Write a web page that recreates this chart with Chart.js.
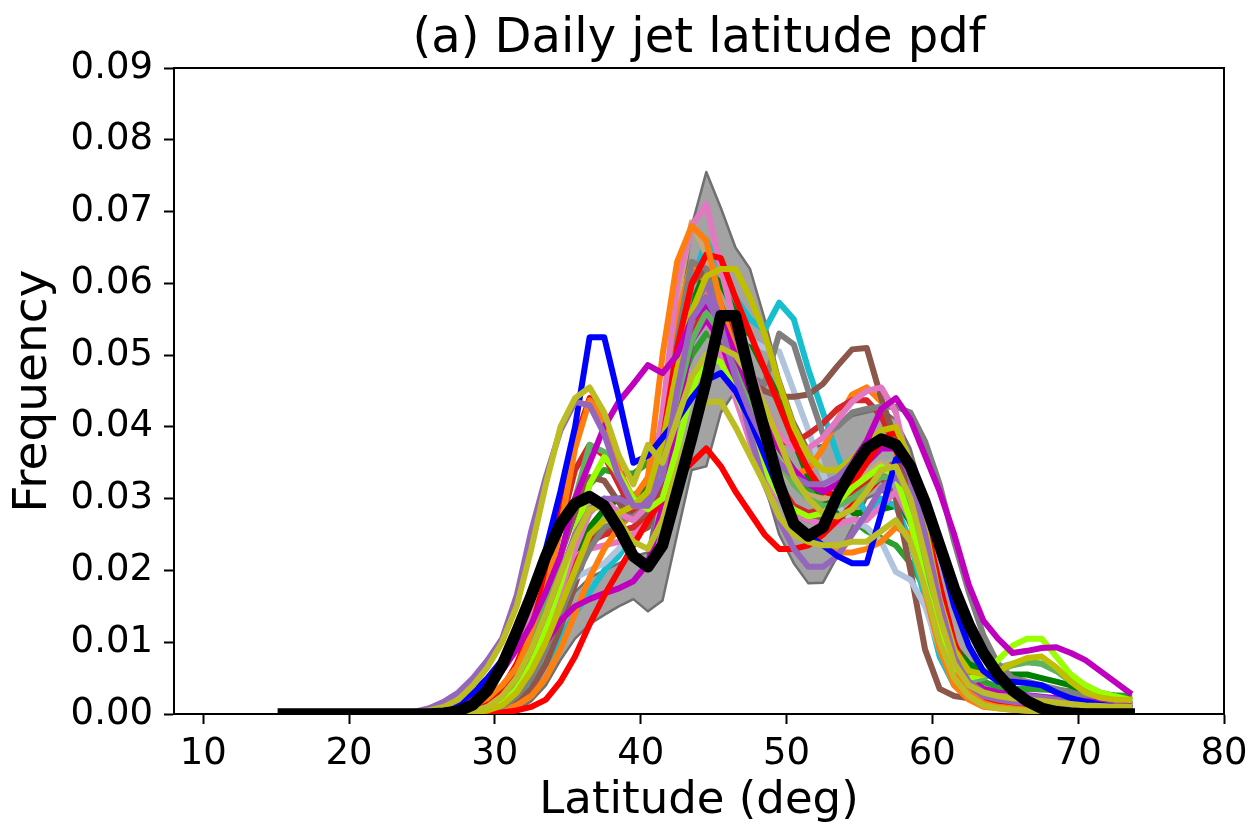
<!DOCTYPE html>
<html><head><meta charset="utf-8">
<script src="https://cdn.jsdelivr.net/npm/chart.js@4.4.0/dist/chart.umd.min.js"></script>
<style>html,body{margin:0;padding:0;background:#fff;}#c{display:block;}</style>
</head><body>
<canvas id="c" width="1251" height="825"></canvas>
<script>
// ---------- data ----------
const latitudes = [15.5,16.5,17.5,18.5,19.5,20.5,21.5,22.5,23.5,24.5,
  25.5,26.5,27.5,28.5,29.5,30.5,31.5,32.5,33.5,34.5,
  35.5,36.5,37.5,38.5,39.5,40.5,41.5,42.5,43.5,44.5,
  45.5,46.5,47.5,48.5,49.5,50.5,51.5,52.5,53.5,54.5,
  55.5,56.5,57.5,58.5,59.5,60.5,61.5,62.5,63.5,64.5,
  65.5,66.5,67.5,68.5,69.5,70.5,71.5,72.5,73.5];

const xTickValues = [10,20,30,40,50,60,70,80];
const xTickLabels = ['10','20','30','40','50','60','70','80'];
const yTickValues = [0,0.01,0.02,0.03,0.04,0.05,0.06,0.07,0.08,0.09];
const yTickLabels = ['0.00','0.01','0.02','0.03','0.04','0.05','0.06','0.07','0.08','0.09'];
const chartTitle = '(a) Daily jet latitude pdf';
const xTitle = 'Latitude (deg)';
const yTitle = 'Frequency';

const obsPdf = [0,0,0,0,0,0,0,0,0,0,
  0,0.0001,0.0004,0.0013,0.0033,0.0068,0.0115,0.0165,0.022,0.0265,
  0.0293,0.0303,0.029,0.0258,0.022,0.0205,0.0235,0.031,0.0385,0.0465,
  0.0555,0.0555,0.047,0.0395,0.032,0.0265,0.0248,0.026,0.0305,0.034,
  0.037,0.0383,0.0375,0.0345,0.0295,0.0235,0.0175,0.0125,0.0085,0.0055,
  0.0033,0.0018,0.0008,0.0003,0.0001,0,0,0,0];
const obsRangeLow = [0,0,0,0,0,0,0,0,0,0,
  0,0,0,0,0,0.0001,0.0005,0.0018,0.004,0.0075,
  0.0105,0.0125,0.0138,0.015,0.016,0.0143,0.0158,0.025,0.034,0.0345,
  0.042,0.045,0.040,0.032,0.025,0.021,0.0182,0.0183,0.022,0.026,
  0.030,0.031,0.030,0.026,0.020,0.013,0.008,0.004,0.002,0.001,
  0.0004,0.0002,0.0001,0,0,0,0,0,0];
const obsRangeHigh = [0,0,0,0,0,0,0,0,0,0,
  0,0,0,0,0,0.0005,0.002,0.005,0.009,0.013,
  0.017,0.019,0.020,0.021,0.022,0.0225,0.034,0.052,0.068,0.0755,
  0.0705,0.065,0.062,0.055,0.047,0.041,0.037,0.0375,0.040,0.0415,
  0.042,0.0425,0.041,0.037,0.030,0.022,0.015,0.009,0.005,0.003,
  0.0015,0.0008,0.0003,0.0001,0,0,0,0,0];

const mBlue = [0,0,0,0,0,0,0,0,0,0.0001,
  0.0003,0.0007,0.0015,0.003,0.005,0.0075,0.011,0.016,0.023,0.031,
  0.040,0.0525,0.0525,0.044,0.035,0.036,0.0385,0.041,0.044,0.0465,
  0.0475,0.045,0.041,0.036,0.031,0.027,0.025,0.0235,0.022,0.021,
  0.021,0.028,0.0355,0.035,0.030,0.0225,0.015,0.0095,0.006,0.0045,
  0.0045,0.0043,0.004,0.003,0.0022,0.0017,0.0013,0.001,0.0008];
const mMagentaA = [0,0,0,0,0,0,0,0,0,0.0001,
  0.0003,0.0007,0.0015,0.0025,0.004,0.006,0.009,0.0125,0.017,0.022,
  0.030,0.035,0.040,0.0435,0.046,0.0486,0.0475,0.050,0.055,0.057,
  0.055,0.050,0.045,0.041,0.037,0.034,0.032,0.031,0.032,0.035,
  0.038,0.0425,0.044,0.041,0.036,0.031,0.025,0.018,0.013,0.0105,
  0.0085,0.0088,0.0092,0.0093,0.0085,0.0075,0.006,0.0045,0.003];
const mCyan = [0,0,0,0,0,0,0,0,0,0,
  0,0,0,0.0001,0.0003,0.0008,0.002,0.004,0.007,0.0105,
  0.014,0.017,0.020,0.022,0.025,0.0275,0.033,0.048,0.060,0.066,
  0.062,0.058,0.055,0.0535,0.0573,0.055,0.048,0.042,0.036,0.031,
  0.028,0.030,0.029,0.024,0.016,0.008,0.004,0.0025,0.0015,0.001,
  0.0008,0.0006,0.0005,0.0004,0.0003,0.0002,0.0002,0.0002,0.0002];
const mBrownA = [0,0,0,0,0,0,0,0,0,0,
  0,0,0,0.0003,0.001,0.0025,0.005,0.0095,0.015,0.022,
  0.028,0.033,0.0325,0.0295,0.027,0.028,0.036,0.050,0.060,0.062,
  0.056,0.051,0.047,0.045,0.0442,0.0442,0.0445,0.046,0.0485,0.0508,
  0.051,0.044,0.038,0.031,0.023,0.015,0.008,0.004,0.0025,0.002,
  0.0015,0.0012,0.001,0.0008,0.0006,0.0005,0.0004,0.0003,0.0003];
const mBrownB = [0,0,0,0,0,0,0,0,0,0,
  0,0,0,0,0.0002,0.0006,0.0015,0.0035,0.007,0.012,
  0.018,0.024,0.026,0.025,0.025,0.026,0.033,0.045,0.055,0.058,
  0.052,0.045,0.038,0.033,0.030,0.028,0.027,0.027,0.0275,0.0285,
  0.031,0.033,0.030,0.020,0.009,0.0035,0.0025,0.0022,0.002,0.0018,
  0.0016,0.0014,0.0012,0.001,0.0008,0.0007,0.0006,0.0005,0.0005];
const mOrangeA = [0,0,0,0,0,0,0,0,0,0,
  0.0001,0.0003,0.0006,0.0012,0.0022,0.004,0.0065,0.011,0.017,0.026,
  0.037,0.0437,0.041,0.034,0.030,0.033,0.050,0.063,0.068,0.066,
  0.057,0.050,0.043,0.036,0.031,0.027,0.025,0.0235,0.0225,0.0225,
  0.023,0.024,0.026,0.025,0.019,0.011,0.0055,0.003,0.0015,0.001,
  0.0008,0.0006,0.0005,0.0004,0.0003,0.0003,0.0003,0.0003,0.0003];
const mOrangeB = [0,0,0,0,0,0,0,0,0,0,
  0,0,0,0,0.0002,0.0005,0.0012,0.0025,0.005,0.009,
  0.014,0.019,0.023,0.026,0.028,0.031,0.040,0.055,0.063,0.060,
  0.052,0.046,0.042,0.038,0.035,0.0335,0.034,0.037,0.041,0.0445,
  0.0455,0.0435,0.037,0.027,0.017,0.009,0.004,0.002,0.001,0.0008,
  0.0006,0.0005,0.0004,0.0004,0.0003,0.0003,0.0003,0.0003,0.0003];
const mPinkA = [0,0,0,0,0,0,0,0,0,0,
  0,0,0,0.0002,0.0006,0.0015,0.0035,0.0065,0.011,0.017,
  0.023,0.028,0.030,0.028,0.027,0.029,0.042,0.060,0.068,0.071,
  0.062,0.054,0.048,0.043,0.039,0.037,0.037,0.0385,0.041,0.0435,
  0.045,0.0455,0.042,0.033,0.022,0.012,0.006,0.003,0.0015,0.001,
  0.0008,0.0007,0.0006,0.0005,0.0004,0.0004,0.0003,0.0003,0.0003];
const mPinkB = [0,0,0,0,0,0,0,0,0,0.0001,
  0.0002,0.0006,0.0015,0.003,0.005,0.0075,0.0105,0.014,0.0175,0.020,
  0.022,0.023,0.0235,0.024,0.025,0.028,0.035,0.046,0.053,0.055,
  0.050,0.044,0.038,0.033,0.030,0.028,0.027,0.0265,0.0265,0.027,
  0.027,0.029,0.031,0.027,0.019,0.011,0.0055,0.003,0.0018,0.0012,
  0.001,0.0009,0.0008,0.0007,0.0006,0.0005,0.0004,0.0003,0.0003];
const mGray = [0,0,0,0,0,0,0,0,0,0,
  0,0,0,0,0.0003,0.001,0.0025,0.005,0.009,0.014,
  0.019,0.023,0.026,0.027,0.0275,0.029,0.038,0.052,0.063,0.062,
  0.056,0.051,0.047,0.046,0.053,0.0515,0.045,0.039,0.040,0.042,
  0.0425,0.0428,0.0428,0.042,0.038,0.032,0.024,0.017,0.011,0.007,
  0.005,0.0045,0.004,0.0035,0.003,0.0025,0.002,0.0015,0.001];
const mSteel = [0,0,0,0,0,0,0,0,0,0,
  0,0,0.0001,0.0003,0.0008,0.002,0.004,0.0075,0.0115,0.0155,
  0.019,0.020,0.021,0.023,0.026,0.028,0.034,0.045,0.052,0.055,
  0.054,0.053,0.052,0.051,0.0505,0.045,0.0395,0.0335,0.029,0.027,
  0.026,0.024,0.0198,0.0187,0.015,0.009,0.005,0.0025,0.0015,0.001,
  0.0008,0.0006,0.0005,0.0004,0.0003,0.0003,0.0002,0.0002,0.0002];
const mRedA = [0,0,0,0,0,0,0,0,0,0,
  0,0,0,0,0,0.0002,0.0005,0.001,0.002,0.0045,
  0.008,0.0125,0.0165,0.020,0.0235,0.027,0.030,0.033,0.035,0.037,
  0.0345,0.031,0.028,0.025,0.023,0.023,0.0235,0.025,0.027,0.029,
  0.031,0.033,0.033,0.029,0.022,0.014,0.0075,0.004,0.002,0.0015,
  0.001,0.0008,0.0006,0.0005,0.0004,0.0003,0.0003,0.0003,0.0003];
const mRedB = [0,0,0,0,0,0,0,0,0,0,
  0,0.0001,0.0003,0.0008,0.0018,0.0035,0.007,0.012,0.019,0.028,
  0.038,0.044,0.041,0.034,0.0295,0.030,0.038,0.051,0.060,0.064,
  0.0635,0.058,0.053,0.048,0.043,0.038,0.034,0.031,0.0305,0.032,
  0.035,0.038,0.0395,0.035,0.027,0.018,0.010,0.005,0.0025,0.0015,
  0.0012,0.001,0.0008,0.0006,0.0005,0.0004,0.0003,0.0003,0.0003];
const mDarkRedA = [0,0,0,0,0,0,0,0,0,0,
  0,0,0.0001,0.0004,0.001,0.0025,0.0055,0.010,0.017,0.026,
  0.034,0.0375,0.036,0.032,0.028,0.0285,0.036,0.048,0.055,0.057,
  0.055,0.050,0.045,0.0405,0.038,0.0377,0.039,0.0405,0.0425,0.0437,
  0.0437,0.0415,0.037,0.030,0.022,0.014,0.008,0.0045,0.0025,0.0015,
  0.0012,0.001,0.0008,0.0006,0.0005,0.0004,0.0003,0.0003,0.0003];
const mDarkRedB = [0,0,0,0,0,0,0,0,0,0,
  0,0,0,0.0002,0.0007,0.002,0.0045,0.008,0.0125,0.017,
  0.021,0.024,0.025,0.0255,0.026,0.028,0.033,0.042,0.052,0.058,
  0.057,0.052,0.044,0.037,0.032,0.029,0.028,0.0285,0.030,0.031,
  0.032,0.034,0.035,0.033,0.026,0.017,0.0095,0.005,0.003,0.002,
  0.0015,0.0012,0.001,0.0008,0.0006,0.0005,0.0004,0.0003,0.0003];
const mGreen = [0,0,0,0,0,0,0,0,0,0,
  0,0,0,0.0002,0.0006,0.0015,0.0035,0.007,0.0115,0.017,
  0.022,0.026,0.0285,0.030,0.0305,0.0315,0.037,0.048,0.057,0.062,
  0.060,0.056,0.052,0.048,0.044,0.038,0.033,0.030,0.0285,0.028,
  0.028,0.0285,0.029,0.027,0.022,0.015,0.0095,0.007,0.006,0.0055,
  0.0055,0.0055,0.005,0.0045,0.004,0.003,0.0025,0.002,0.0015];
const mMidGreen = [0,0,0,0,0,0,0,0,0,0,
  0,0,0,0.0002,0.0006,0.0015,0.0035,0.007,0.012,0.018,
  0.025,0.032,0.034,0.0335,0.0335,0.035,0.040,0.045,0.050,0.053,
  0.052,0.049,0.045,0.041,0.037,0.034,0.0315,0.0295,0.028,0.027,
  0.0255,0.0245,0.0235,0.021,0.0175,0.013,0.009,0.006,0.0045,0.0038,
  0.0035,0.0035,0.0034,0.0033,0.0032,0.003,0.0028,0.0026,0.0025];
const mLime = [0,0,0,0,0,0,0,0,0,0,
  0,0,0,0.0002,0.0006,0.0015,0.0035,0.007,0.012,0.018,
  0.025,0.032,0.0358,0.0335,0.030,0.0285,0.030,0.037,0.045,0.050,
  0.049,0.045,0.040,0.034,0.0305,0.0285,0.0275,0.028,0.0295,0.0315,
  0.033,0.0345,0.033,0.027,0.018,0.011,0.0065,0.005,0.0055,0.0075,
  0.0095,0.0105,0.0105,0.008,0.0055,0.004,0.003,0.0025,0.002];
const mOliveA = [0,0,0,0,0,0,0,0,0,0.0002,
  0.0005,0.001,0.002,0.004,0.0065,0.010,0.015,0.023,0.032,0.040,
  0.044,0.0455,0.042,0.036,0.032,0.0375,0.035,0.041,0.047,0.050,
  0.051,0.050,0.047,0.043,0.038,0.033,0.030,0.028,0.0275,0.0285,
  0.031,0.034,0.0345,0.030,0.022,0.0135,0.007,0.004,0.003,0.0025,
  0.0022,0.002,0.0018,0.0016,0.0014,0.0012,0.0011,0.001,0.001];
const mOliveB = [0,0,0,0,0,0,0,0,0,0,
  0,0,0.0001,0.0004,0.001,0.0025,0.005,0.009,0.014,0.0195,
  0.0245,0.0285,0.029,0.027,0.024,0.023,0.027,0.034,0.040,0.0435,
  0.0435,0.040,0.036,0.032,0.0275,0.025,0.024,0.0235,0.0235,0.024,
  0.024,0.0255,0.027,0.024,0.0175,0.010,0.005,0.0025,0.0012,0.0008,
  0.0006,0.0005,0.0004,0.0003,0.0003,0.0003,0.0003,0.0003,0.0003];
const mOliveC = [0,0,0,0,0,0,0,0,0,0,
  0,0,0,0.0002,0.0005,0.0012,0.003,0.006,0.010,0.015,
  0.020,0.025,0.027,0.028,0.029,0.031,0.038,0.048,0.056,0.061,
  0.062,0.062,0.058,0.053,0.046,0.040,0.036,0.034,0.034,0.0355,
  0.0375,0.0395,0.040,0.035,0.026,0.016,0.009,0.006,0.0055,0.006,
  0.007,0.0078,0.008,0.0065,0.0045,0.003,0.0023,0.002,0.002];
const mPurpleA = [0,0,0,0,0,0,0,0,0,0.0003,
  0.0008,0.0017,0.003,0.005,0.0075,0.0105,0.0165,0.0255,0.033,0.0395,
  0.0435,0.043,0.039,0.033,0.029,0.029,0.033,0.045,0.055,0.058,
  0.054,0.047,0.042,0.038,0.035,0.033,0.032,0.032,0.033,0.035,
  0.037,0.0385,0.0375,0.033,0.025,0.0155,0.008,0.004,0.0025,0.002,
  0.0017,0.0015,0.0013,0.0012,0.001,0.0009,0.0008,0.0007,0.0007];
const mPurpleB = [0,0,0,0,0,0,0,0,0,0,
  0,0,0.0001,0.0004,0.001,0.0025,0.005,0.009,0.014,0.0195,
  0.025,0.0285,0.030,0.030,0.029,0.030,0.036,0.047,0.056,0.060,
  0.055,0.047,0.039,0.032,0.027,0.023,0.0205,0.0205,0.022,0.025,
  0.028,0.0315,0.033,0.031,0.024,0.015,0.008,0.0045,0.003,0.0025,
  0.0025,0.0025,0.0023,0.002,0.0018,0.0015,0.0013,0.0011,0.001];
const mSeaGreen = [0,0,0,0,0,0,0,0,0,0,
  0,0,0,0.0003,0.0008,0.002,0.0045,0.009,0.015,0.022,
  0.030,0.0375,0.0365,0.033,0.030,0.030,0.035,0.044,0.052,0.056,
  0.053,0.048,0.043,0.0385,0.035,0.032,0.030,0.029,0.029,0.030,
  0.0315,0.033,0.033,0.029,0.021,0.013,0.007,0.0045,0.005,0.006,
  0.0068,0.0072,0.007,0.006,0.0045,0.0035,0.0028,0.0023,0.002];
const mTan = [0,0,0,0,0,0,0,0,0,0,
  0,0,0,0.0002,0.0006,0.0016,0.0035,0.007,0.012,0.018,
  0.024,0.029,0.030,0.028,0.027,0.029,0.040,0.058,0.0685,0.064,
  0.055,0.047,0.041,0.037,0.034,0.032,0.0305,0.030,0.0305,0.032,
  0.0335,0.035,0.034,0.029,0.021,0.012,0.006,0.003,0.0018,0.0012,
  0.001,0.0009,0.0008,0.0007,0.0006,0.0005,0.0004,0.0003,0.0003];
const mMagentaB = [0,0,0,0,0,0,0,0,0,0,
  0,0,0.0001,0.0005,0.0012,0.0025,0.0045,0.007,0.010,0.013,
  0.015,0.016,0.0168,0.0175,0.0185,0.021,0.029,0.042,0.052,0.055,
  0.052,0.046,0.040,0.035,0.031,0.0285,0.0275,0.028,0.030,0.0325,
  0.035,0.037,0.037,0.033,0.025,0.016,0.009,0.005,0.0035,0.003,
  0.0028,0.0026,0.0024,0.0022,0.002,0.0018,0.0016,0.0014,0.0012];
const mDarkSea = [0,0,0,0,0,0,0,0,0,0,
  0,0,0,0.0002,0.0006,0.0015,0.0035,0.007,0.0115,0.0165,
  0.0215,0.0255,0.0275,0.0285,0.0295,0.031,0.037,0.047,0.055,0.057,
  0.054,0.049,0.044,0.040,0.036,0.033,0.031,0.030,0.030,0.031,
  0.0325,0.0345,0.0355,0.032,0.024,0.015,0.0085,0.0055,0.0055,0.0065,
  0.007,0.0073,0.007,0.006,0.005,0.004,0.003,0.0025,0.002];

const modelSeries = [mDarkSea, mMidGreen, mGreen, mCyan, mBrownB, mSteel, mPinkB, mDarkRedB, mTan,
  mOrangeB, mDarkRedA, mBrownA, mGray, mMagentaB, mRedA, mPinkA, mRedB, mOrangeA, mSeaGreen,
  mLime, mPurpleB, mOliveC, mMagentaA, mBlue, mOliveB, mPurpleA, mOliveA];
const modelColors = ['#8fbc8f', '#2ca02c', '#008000', '#17becf', '#8c564b', '#b0c4de', '#e377c2', '#d62728', '#c8a878',
  '#ff7f0e', '#d62728', '#8c564b', '#7f7f7f', '#bf00bf', '#ff0000', '#e377c2', '#ff0000', '#ff7f0e', '#5fb35f',
  '#9aff00', '#9467bd', '#bfbf00', '#bf00bf', '#0000ff', '#bcbd22', '#9467bd', '#bcbd22'];

// ---------- build ----------
const toPts = vals => latitudes.map((x, i) => ({x: x, y: vals[i]}));
const N = modelSeries.length;
const datasets = [];
datasets.push({data: toPts(obsPdf), borderColor: '#000000', borderWidth: 11.5, order: 0, clip: 0});
for (let k = N - 1; k >= 0; k--) {
  datasets.push({data: toPts(modelSeries[k]), borderColor: modelColors[k], borderWidth: 6, order: 1 + (N - 1 - k), clip: 0});
}
datasets.push({data: toPts(obsRangeLow), borderColor: '#707070', borderWidth: 2.5, order: 500, clip: 0, fill: false});
datasets.push({data: toPts(obsRangeHigh), borderColor: '#707070', borderWidth: 2.5, order: 501, clip: 0,
  fill: '-1', backgroundColor: '#a3a3a3'});

const FONT = 'DejaVu Sans';
new Chart(document.getElementById('c'), {
  type: 'line',
  data: {datasets: datasets},
  options: {
    responsive: false, animation: false, devicePixelRatio: 1,
    layout: {padding: 0},
    plugins: {legend: {display: false}, tooltip: {enabled: false}, title: {display: false}},
    elements: {point: {radius: 0}, line: {tension: 0, borderJoinStyle: 'round', borderCapStyle: 'square'}},
    scales: {
      x: {
        type: 'linear', position: 'bottom', min: 8, max: 80,
        afterBuildTicks: s => { s.ticks = xTickValues.map(v => ({value: v})); },
        ticks: {font: {family: FONT, size: 37, lineHeight: 1.632}, color: '#000', padding: 0, maxRotation: 0, autoSkip: false,
          callback: (v, i) => xTickLabels[i]},
        grid: {display: true, drawOnChartArea: false, drawTicks: true, tickLength: 10, tickWidth: 2, tickColor: '#000'},
        border: {display: true, color: '#000', width: 2},
        title: {display: true, text: xTitle, color: '#000', font: {family: FONT, size: 45, lineHeight: 1}, padding: {top: 0, bottom: 1}},
        afterFit: s => { s.height = 111; }
      },
      y: {
        type: 'linear', position: 'left', min: 0, max: 0.09,
        afterBuildTicks: s => { s.ticks = yTickValues.map(v => ({value: v})); },
        ticks: {font: {family: FONT, size: 37}, color: '#000', padding: 11, autoSkip: false,
          callback: (v, i) => yTickLabels[i]},
        grid: {display: true, drawOnChartArea: false, drawTicks: true, tickLength: 10, tickWidth: 2, tickColor: '#000'},
        border: {display: true, color: '#000', width: 2},
        title: {display: true, text: yTitle, color: '#000', font: {family: FONT, size: 47, lineHeight: 1}, padding: {top: 10, bottom: 0}},
        afterFit: s => { s.width = 174; }
      },
      x2: {
        type: 'linear', position: 'top', min: 8, max: 80,
        ticks: {display: false}, grid: {display: false, drawTicks: false},
        border: {display: true, color: '#000', width: 2},
        title: {display: true, text: chartTitle, color: '#000', font: {family: FONT, size: 48, lineHeight: 1}, padding: {top: 16, bottom: 0}},
        afterFit: s => { s.height = 68; }
      },
      y2: {
        type: 'linear', position: 'right', min: 0, max: 0.09,
        ticks: {display: false}, grid: {display: false, drawTicks: false},
        border: {display: true, color: '#000', width: 2},
        afterFit: s => { s.width = 27; }
      }
    }
  }
});
</script>
</body></html>
